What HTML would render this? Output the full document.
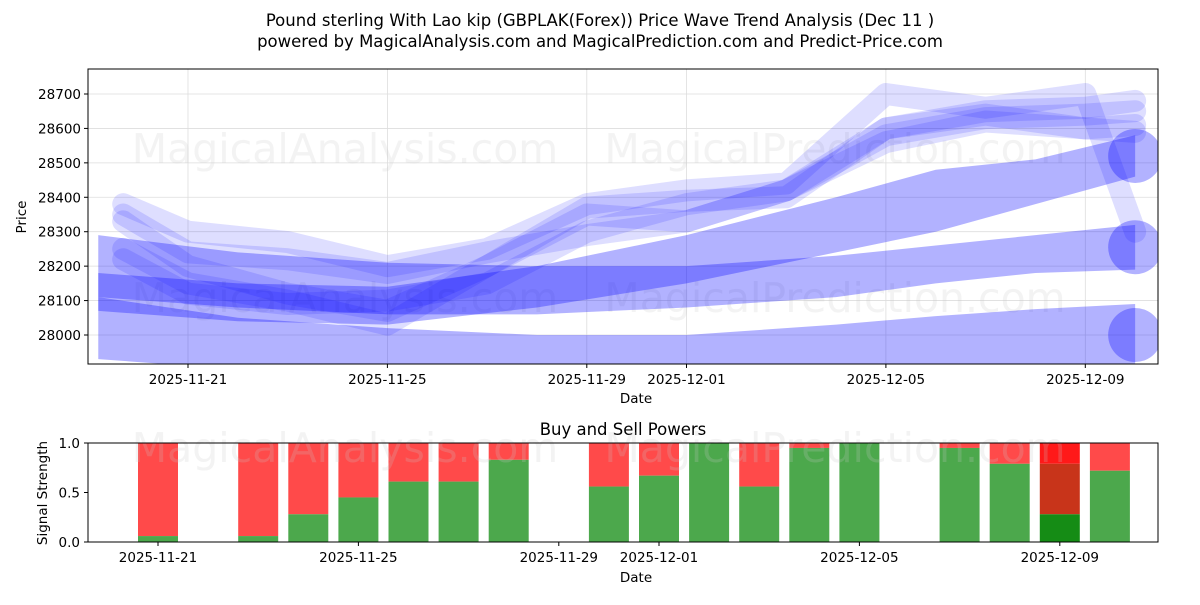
<!DOCTYPE html>
<html><head><meta charset="utf-8"><style>
body{margin:0;background:#fff;font-family:"Liberation Sans","DejaVu Sans",sans-serif}
svg text{font-family:"DejaVu Sans","Liberation Sans",sans-serif;fill:#000}
</style></head><body>
<svg id="c" width="1200" height="600" xmlns="http://www.w3.org/2000/svg">
<text x="600" y="26" font-size="16.5" text-anchor="middle">Pound sterling With Lao kip (GBPLAK(Forex)) Price Wave Trend Analysis (Dec 11 )</text>
<text x="600" y="47" font-size="16.5" text-anchor="middle">powered by MagicalAnalysis.com and MagicalPrediction.com and Predict-Price.com</text>
<g id="main"></g>
<g id="sub"></g>
</svg>
<script>
const priceTicks=[28000,28100,28200,28300,28400,28500,28600,28700];
const dateTicks=["2025-11-21","2025-11-25","2025-11-29","2025-12-01","2025-12-05","2025-12-09"];
const dateTickDays=[0,4,8,10,14,18];
const bandDays=[-1.8,1,4,7,10,13,15,17,19];
const bandATop=[28110,28050,28020,28000,28000,28030,28055,28075,28090];
const bandABot=[27930,27900,27880,27880,27880,27880,27880,27880,27910];
const bandBTop=[28290,28240,28210,28200,28200,28230,28260,28290,28320];
const bandBBot=[28110,28080,28060,28060,28080,28110,28150,28180,28190];
const bandCTop=[28180,28150,28140,28200,28290,28400,28480,28510,28580];
const bandCBot=[28070,28040,28030,28080,28150,28240,28300,28380,28460];
const lineDays=[-1.3,0,2,4,6,8,10,12,14,16,18,19];
const line1=[28330,28200,28120,28070,28200,28370,28390,28400,28600,28640,28600,28610];
const line2=[28250,28150,28100,28030,28200,28350,28330,28420,28580,28630,28640,28650];
const line3=[28380,28300,28270,28200,28250,28380,28420,28440,28700,28660,28700,28300];
const line4=[28220,28120,28090,28100,28150,28300,28380,28420,28560,28620,28600,28590];
const line5=[28350,28240,28220,28180,28240,28290,28330,28420,28600,28650,28660,28680];
const endDots=[28000,28255,28520];
const barDays=[0,2,3,4,5,6,7,9,10,11,12,13,14,16,17,18,19];
const buyVals=[0.06,0.06,0.28,0.45,0.61,0.61,0.83,0.56,0.67,1.0,0.56,0.95,1.0,0.95,0.79,0.28,0.72];
const NS="http://www.w3.org/2000/svg";
const mx=d=>188+d*49.85, my=v=>335-(v-28000)*0.3443;
const bx=d=>158+d*50.1, by=v=>542-v*99;
function el(t,a,p){const e=document.createElementNS(NS,t);for(const k in a)e.setAttribute(k,a[k]);p.appendChild(e);return e;}
const main=document.getElementById('main'),sub=document.getElementById('sub');
const defs=el('defs',{},main);
const cp=el('clipPath',{id:'cp'},defs);el('rect',{x:88,y:69,width:1070,height:295},cp);
priceTicks.forEach(v=>{const g=el('line',{x1:88,x2:1158,y1:my(v),y2:my(v),stroke:'#ddd','stroke-width':0.8},main);

el('line',{x1:84,x2:88,y1:my(v),y2:my(v),stroke:'#000'},main);
const t=el('text',{x:81,y:my(v)+5,'font-size':13.5,'text-anchor':'end'},main);t.textContent=v;
});
dateTickDays.forEach((d,i)=>{const g=el('line',{x1:mx(d),x2:mx(d),y1:69,y2:364,stroke:'#ddd','stroke-width':0.8},main);

el('line',{x1:mx(d),x2:mx(d),y1:364,y2:368,stroke:'#000'},main);
const t=el('text',{x:mx(d),y:384,'font-size':13.5,'text-anchor':'middle'},main);t.textContent=dateTicks[i];
});
const wm=[[345,163],[835,163],[345,312],[835,312]];const wt=["MagicalAnalysis.com","MagicalPrediction.com"];
wm.forEach((p,i)=>{const t=el('text',{x:p[0],y:p[1],'font-size':41,'text-anchor':'middle',style:'fill:rgba(200,200,200,0.22)'},main);t.textContent=wt[i%2];
});
const pg=el('g',{'clip-path':'url(#cp)'},main);
[[bandATop,bandABot],[bandBTop,bandBBot],[bandCTop,bandCBot]].forEach((b,i)=>{
let pts=bandDays.map((d,j)=>mx(d)+','+my(b[0][j]));
pts=pts.concat(bandDays.slice().reverse().map((d,j)=>mx(d)+','+my(b[1][bandDays.length-1-j])));
const p=el('polygon',{points:pts.join(' '),fill:'rgba(0,0,255,0.3)'},pg);
});
endDots.forEach(v=>{const c=el('circle',{cx:mx(19),cy:my(v),r:27,fill:'rgba(0,0,255,0.3)'},pg);
});
[line1,line2,line3,line4,line5].forEach(L=>{const p=el('polyline',{points:lineDays.map((d,j)=>mx(d)+','+my(L[j])).join(' '),fill:'none',stroke:'rgba(0,0,255,0.13)','stroke-width':22,'stroke-linejoin':'round','stroke-linecap':'round'},pg);
});
el('rect',{x:88,y:69,width:1070,height:295,fill:'none',stroke:'#000','stroke-width':1},main);
let t=el('text',{x:636,y:403,'font-size':13.5,'text-anchor':'middle'},main);t.textContent='Date';
t=el('text',{x:26,y:217,'font-size':13.5,'text-anchor':'middle',transform:'rotate(-90 26 217)'},main);t.textContent='Price';
t=el('text',{x:623,y:435,'font-size':16.5,'text-anchor':'middle'},sub);t.textContent='Buy and Sell Powers';
[0,0.5,1].forEach(v=>{const q=el('text',{x:80,y:by(v)+5,'font-size':13.5,'text-anchor':'end'},sub);q.textContent=v.toFixed(1);

el('line',{x1:84,x2:88,y1:by(v),y2:by(v),stroke:'#000'},sub);});
barDays.forEach((d,i)=>{const x=bx(d)-20,g=buyVals[i];
let r;
if(i===15){r=el('rect',{x,y:by(1),width:40,height:by(0.79)-by(1),fill:'#ff0000',opacity:0.9},sub);

r=el('rect',{x,y:by(0.79),width:40,height:by(g)-by(0.79),fill:'#c8341a'},sub);

r=el('rect',{x,y:by(g),width:40,height:by(0)-by(g),fill:'#158c15'},sub);
return;}
r=el('rect',{x,y:by(1),width:40,height:by(g)-by(1),fill:'#ff4a4a'},sub);

r=el('rect',{x,y:by(g),width:40,height:by(0)-by(g),fill:'#4ca84c'},sub);
});
wm.slice(0,2).forEach((p,i)=>{const q=el('text',{x:p[0],y:462,'font-size':41,'text-anchor':'middle',style:'fill:rgba(200,200,200,0.22)'},sub);q.textContent=wt[i];});
el('rect',{x:88,y:443,width:1070,height:99,fill:'none',stroke:'#000','stroke-width':1},sub);
dateTickDays.forEach((d,i)=>{const x=bx(d);el('line',{x1:x,x2:x,y1:542,y2:546,stroke:'#000'},sub);
const q=el('text',{x,y:562,'font-size':13.5,'text-anchor':'middle'},sub);q.textContent=dateTicks[i];
});
t=el('text',{x:636,y:582,'font-size':13.5,'text-anchor':'middle'},sub);t.textContent='Date';
t=el('text',{x:47,y:493,'font-size':13.5,'text-anchor':'middle',transform:'rotate(-90 47 493)'},sub);t.textContent='Signal Strength';
</script>
</body></html>
